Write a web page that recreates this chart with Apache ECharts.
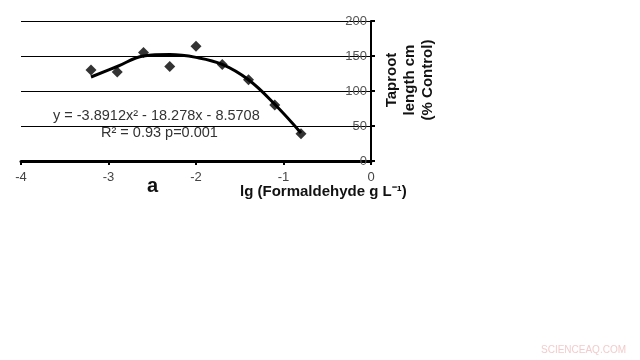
<!DOCTYPE html>
<html><head><meta charset="utf-8">
<script src="https://cdn.jsdelivr.net/npm/echarts@6/dist/echarts.min.js"></script>
<style>html,body{margin:0;padding:0;background:#fff}#c{width:640px;height:360px}</style>
</head><body><div id="c"></div>
<script>
const xValues = [-3.2, -2.9, -2.6, -2.3, -2.0, -1.7, -1.4, -1.1, -0.8];
const observed = [130, 127, 155, 135, 164, 138, 116, 80, 39];
const trendX = [-3.2, -2.9, -2.6, -2.3, -2.0, -1.7, -1.4, -1.1, -0.8];
const trendY = [120, 135, 150, 152, 148, 138, 116, 81, 40];
const xTicks = [-4, -3, -2, -1, 0];
const yTicks = [0, 50, 100, 150, 200];
const equation = 'y = -3.8912x² - 18.278x - 8.5708';
const stats = 'R² = 0.93 p=0.001';
const xTitle = 'lg (Formaldehyde g L⁻¹)';
const yTitle = ['Taproot', 'length cm', '(% Control)'];
const panel = 'a';

const FONT = '"Liberation Sans", Arial, sans-serif';
const chart = echarts.init(document.getElementById('c'), null, {renderer: 'canvas'});
chart.setOption({
  animation: false,
  backgroundColor: '#fff',
  grid: {left: 21, right: 269, top: 21, bottom: 199, containLabel: false},
  xAxis: {
    type: 'value', min: xTicks[0], max: xTicks[xTicks.length - 1], interval: 1,
    axisLine: {onZero: false, lineStyle: {color: '#000', width: 3}},
    axisTick: {show: true, length: 4, lineStyle: {color: '#000', width: 2}},
    axisLabel: {color: '#444', fontFamily: FONT, fontSize: 13, margin: 10},
    splitLine: {show: false}
  },
  yAxis: {
    type: 'value', position: 'right', min: yTicks[0], max: yTicks[yTicks.length - 1], interval: 50,
    axisLine: {show: true, onZero: false, lineStyle: {color: '#000', width: 2}},
    axisTick: {show: true, inside: false, length: 4, lineStyle: {color: '#000', width: 2}},
    axisLabel: {inside: true, color: '#555', fontFamily: FONT, fontSize: 13, margin: 4},
    splitLine: {show: true, lineStyle: {color: '#000', width: 1}}
  },
  series: [
    {
      type: 'line', data: trendX.map((x, i) => [x, trendY[i]]), smooth: 0.4,
      showSymbol: false, lineStyle: {color: '#000', width: 3}, z: 2
    },
    {
      type: 'scatter', data: xValues.map((x, i) => [x, observed[i]]),
      symbol: 'diamond', symbolSize: 11, itemStyle: {color: '#000'}, z: 3
    }
  ],
  graphic: [
    {type: 'text', left: 53, top: 108, style: {text: equation, fill: '#333', font: '14.5px ' + FONT}},
    {type: 'text', left: 101, top: 125, style: {text: stats, fill: '#333', font: '14.5px ' + FONT}},
    {type: 'text', left: 147, top: 176, style: {text: panel, fill: '#111', font: 'bold 20px ' + FONT}},
    {type: 'text', left: 240, top: 184, style: {text: xTitle, fill: '#111', font: 'bold 15px ' + FONT}},
    {type: 'text', x: 410, y: 80, rotation: Math.PI / 2,
      style: {text: yTitle.join('\n'), fill: '#111', font: 'bold 15px ' + FONT, align: 'center', verticalAlign: 'middle', lineHeight: 18}},
    {type: 'text', left: 541, top: 345, style: {text: 'SCIENCEAQ.COM', fill: '#f2cccc', font: '10px ' + FONT}}
  ]
});
</script></body></html>
